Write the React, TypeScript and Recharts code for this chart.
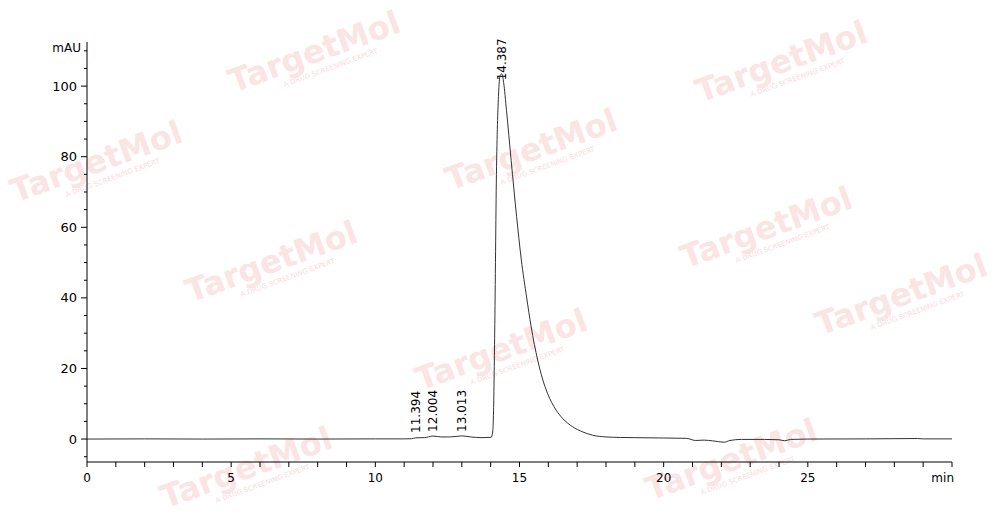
import React from 'react'
import { LineChart, Line, XAxis, YAxis, ReferenceDot } from 'recharts'

// retention time (min) and absorbance (mAU)
const times = [
  0, 2, 4, 6, 8, 10, 11.0, 11.25, 11.4, 11.7, 12.0, 12.3, 12.6, 13.0, 13.3, 13.7, 14.02,
  14.07, 14.1, 14.14, 14.2, 14.27, 14.33, 14.39, 14.45, 14.55, 14.71, 14.9, 15.06, 15.25,
  15.4, 15.63, 15.8, 15.97, 16.27, 16.5, 16.84, 17.2, 17.53, 18, 18.5, 19, 20, 20.8, 21.1,
  21.4, 21.7, 22.1, 22.3, 22.7, 23.5, 24.0, 24.2, 24.4, 25, 27, 28.8, 29, 30,
]
const mAU = [
  0, 0.05, 0, 0.05, 0, 0.05, 0.05, 0.1, 0.35, 0.4, 0.85, 0.6, 0.6, 0.9, 0.6, 0.4, 0.5,
  2, 8, 30, 75, 97, 103, 103.5, 101, 93, 79, 63, 51, 40,
  32, 22.4, 17, 13, 8.2, 5.8, 3.5, 2, 1.1, 0.6, 0.45, 0.4, 0.3, 0.2, -0.4,
  -0.3, -0.5, -0.9, -0.4, -0.1, -0.1, -0.2, -0.5, -0.1, 0, 0.05, 0.15, 0.05, 0.05,
]

const peakTimes = [11.394, 12.004, 13.013, 14.387]
const peakHeights = [0.6, 0.9, 0.9, 100.5]
const peakLabels = ['11.394', '12.004', '13.013', '14.387']

const xTicks = Array.from({ length: 31 }, (_, i) => i)
const yTicks = Array.from({ length: 24 }, (_, i) => -5 + i * 5)

// faint logo watermark spots
const WATERMARKS = [
  [318, 62], [785, 72], [100, 172], [535, 160], [275, 272], [770, 238],
  [505, 360], [250, 478], [735, 470], [905, 305],
]

const data = times.map((t, i) => ({ t, v: mAU[i] }))
const font = '"DejaVu Sans", sans-serif'

function XTick({ x, y, payload }: any) {
  const v = payload.value
  const major = v % 5 === 0
  return (
    <g>
      <line x1={x} x2={x} y1={y} y2={y + 5} stroke="#000" />
      {major && v < 30 && (
        <text x={x} y={y + 20} textAnchor="middle" fontSize={12} fontFamily={font} fill="#000">
          {v}
        </text>
      )}
      {v === 30 && (
        <text x={x + 2} y={y + 20} textAnchor="end" fontSize={12} fontFamily={font} fill="#000">
          min
        </text>
      )}
    </g>
  )
}

function YTick({ x, y, payload }: any) {
  const v = payload.value
  const major = v % 20 === 0 && v >= 0 && v <= 100
  return (
    <g>
      <line x1={x - (major ? 6 : 3)} x2={x} y1={y} y2={y} stroke="#000" />
      {major && (
        <text x={x - 10} y={y + 4.5} textAnchor="end" fontSize={13} fontFamily={font} fill="#000">
          {v}
        </text>
      )}
      {v === 110 && (
        <text x={x - 6} y={y + 1} textAnchor="end" fontSize={12} fontFamily={font} fill="#000">
          mAU
        </text>
      )}
    </g>
  )
}

function PeakLabel(text: string) {
  return ({ viewBox }: any) => {
    const cx = viewBox.x + viewBox.width / 2
    const cy = viewBox.y + viewBox.height / 2 - 4
    return (
      <text
        x={cx}
        y={cy}
        transform={`rotate(-90, ${cx}, ${cy})`}
        dominantBaseline="central"
        fontSize={12}
        fontFamily={font}
        fill="#000"
      >
        {text}
      </text>
    )
  }
}

export default function App() {
  return (
    <div style={{ position: 'absolute', left: 0, top: 0, width: 1000, height: 523, background: '#fff' }}>
      <svg width={1000} height={523} style={{ position: 'absolute', left: 0, top: 0 }}>
        {WATERMARKS.map(([wx, wy], i) => (
          <g key={i} transform={`rotate(-20, ${wx}, ${wy})`}>
            <text x={wx} y={wy} textAnchor="middle" fontSize={32} fontWeight="bold" fontFamily={font} fill="#fbe4e4">
              TargetMol
            </text>
            <text x={wx + 10} y={wy + 12} textAnchor="middle" fontSize={7} fontFamily={font} fill="#f7dcdc">
              A DRUG SCREENING EXPERT
            </text>
          </g>
        ))}
      </svg>
      <div style={{ position: 'absolute', left: 0, top: 0 }}>
        <LineChart width={1000} height={523} data={data} margin={{ top: 42, right: 48, bottom: 0, left: 0 }}>
          <XAxis
            dataKey="t"
            type="number"
            domain={[0, 30]}
            ticks={xTicks}
            interval={0}
            height={61}
            stroke="#000"
            tickLine={false}
            tickSize={0}
            tickMargin={0}
            tick={<XTick />}
          />
          <YAxis
            type="number"
            domain={[-6.5, 112.5]}
            ticks={yTicks}
            interval={0}
            width={87}
            stroke="#000"
            tickLine={false}
            tickSize={0}
            tickMargin={0}
            allowDataOverflow
            tick={<YTick />}
          />
          <Line
            dataKey="v"
            type="monotone"
            stroke="#333"
            strokeWidth={1}
            dot={false}
            isAnimationActive={false}
          />
          {peakTimes.map((t, i) => (
            <ReferenceDot
              key={peakLabels[i]}
              x={t}
              y={peakHeights[i]}
              r={0}
              fill="none"
              stroke="none"
              label={PeakLabel(peakLabels[i])}
            />
          ))}
        </LineChart>
      </div>
    </div>
  )
}
